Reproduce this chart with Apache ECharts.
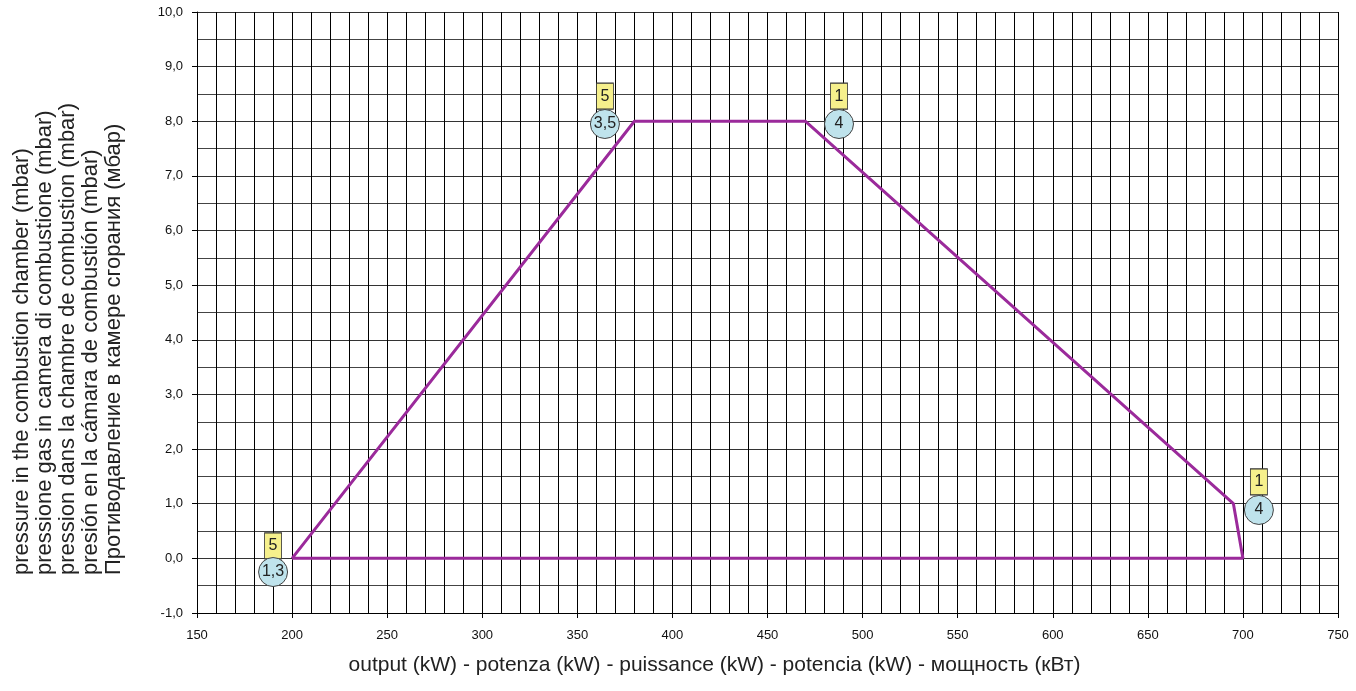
<!DOCTYPE html>
<html><head><meta charset="utf-8">
<script src="https://cdn.jsdelivr.net/npm/echarts@6/dist/echarts.min.js"></script>
<style>html,body{margin:0;padding:0;background:#fff}#c{width:1356px;height:691px}</style>
</head><body><div id="c"></div>
<script>
// working field outline (kW, mbar)
const outlineX = [200, 380, 470, 695, 700, 200];
const outlineY = [0, 8, 8, 1, 0, 0];
// annotation markers
const boxX = [190, 364.5, 487.6, 708.4];
const boxY = [0.23, 8.46, 8.46, 1.40];
const boxText = ['5', '5', '1', '1'];
const circX = [190, 364.5, 487.6, 708.4];
const circY = [-0.25, 7.95, 7.95, 0.886];
const circText = ['1,3', '3,5', '4', '4'];
// axes
const xMin = 150, xMax = 750, xStep = 50;
const yMin = -1, yMax = 10, yStep = 1;
const xTitle = 'output (kW) - potenza (kW) - puissance (kW) - potencia (kW) - мощность (кВт)';
const yTitleLines = [
  'pressure in the combustion chamber (mbar)',
  'pressione gas in camera di combustione (mbar)',
  'pression dans la chambre de combustion (mbar)',
  'presión en la cámara de combustión (mbar)',
  'Противодавление в камере сгорания (мбар)'
];

const font = 'Liberation Sans, Arial, sans-serif';
const chart = echarts.init(document.getElementById('c'), null, {renderer: 'canvas'});
chart.setOption({
  animation: false,
  backgroundColor: '#fff',
  grid: {left: 197, right: 18, top: 12, bottom: 78, containLabel: false},
  graphic: [{
    type: 'text', x: 68, y: 575, rotation: Math.PI / 2,
    style: {text: yTitleLines.join('\n'), font: '22px Liberation Sans, Arial, sans-serif',
      fill: '#222', align: 'left', verticalAlign: 'middle', lineHeight: 23}
  }],
  xAxis: {
    type: 'value', min: xMin, max: xMax, interval: xStep,
    name: xTitle, nameLocation: 'middle', nameGap: 42,
    nameTextStyle: {fontFamily: font, fontSize: 21, color: '#222', padding: [0, 106, 0, 0]},
    axisLine: {show: true, onZero: false, lineStyle: {color: '#000', width: 1}},
    axisTick: {show: true, length: 5, lineStyle: {color: '#000'}},
    axisLabel: {fontFamily: font, fontSize: 13, color: '#111', margin: 16},
    splitLine: {show: true, lineStyle: {color: '#000', width: 1}},
    minorTick: {show: false, splitNumber: 5},
    minorSplitLine: {show: true, lineStyle: {color: '#000', width: 1}}
  },
  yAxis: {
    type: 'value', min: yMin, max: yMax, interval: yStep,
    axisLine: {show: true, onZero: false, lineStyle: {color: '#000', width: 1}},
    axisTick: {show: true, length: 5, lineStyle: {color: '#000'}},
    axisLabel: {fontFamily: font, fontSize: 13, color: '#111', margin: 14,
      formatter: v => v.toFixed(1).replace('.', ',')},
    splitLine: {show: true, lineStyle: {color: '#333', width: 1}},
    minorTick: {show: false, splitNumber: 2},
    minorSplitLine: {show: true, lineStyle: {color: '#444', width: 1}}
  },
  series: [
    {
      type: 'line', data: outlineX.map((x, i) => [x, outlineY[i]]),
      symbol: 'none', lineStyle: {color: '#9b2a9b', width: 3}, z: 3
    },
    {
      type: 'scatter', data: boxX.map((x, i) => [x, boxY[i], boxText[i]]),
      symbol: 'rect', symbolSize: [17, 26],
      itemStyle: {color: '#f6f08c', borderColor: '#333', borderWidth: 1, opacity: 1},
      label: {show: true, position: 'inside', formatter: p => p.data[2],
        fontFamily: font, fontSize: 16, color: '#222'},
      z: 5
    },
    {
      type: 'scatter', data: circX.map((x, i) => [x, circY[i], circText[i]]),
      symbol: 'circle', symbolSize: 29,
      itemStyle: {color: '#bfe3ec', borderColor: '#444', borderWidth: 1, opacity: 1},
      label: {show: true, position: 'inside', formatter: p => p.data[2],
        fontFamily: font, fontSize: 16, color: '#222'},
      z: 5
    }
  ]
});
</script></body></html>
